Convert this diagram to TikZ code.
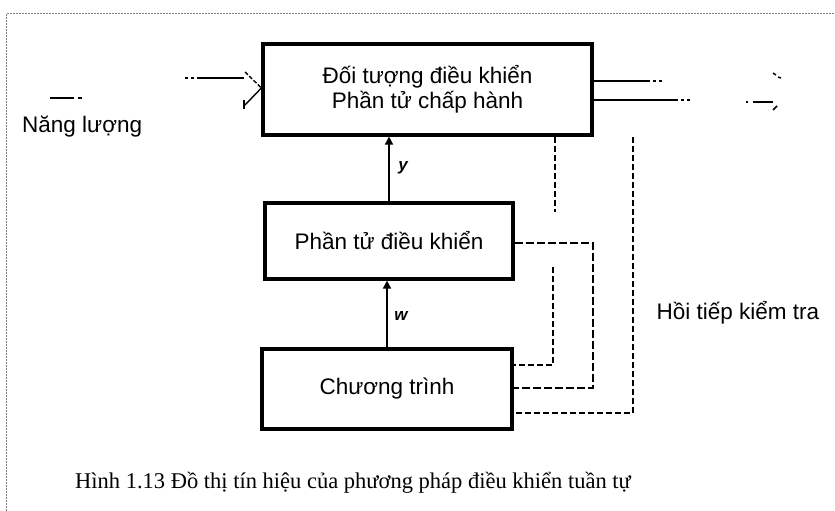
\documentclass[tikz,border=0pt]{standalone}
\usepackage{fontspec}
\setmainfont{Liberation Serif}
\setsansfont{Liberation Sans}
\usetikzlibrary{arrows.meta}
\begin{document}
\begin{tikzpicture}[x=1pt,y=-1pt,
  blk/.style={draw,line width=3.2pt,minimum width=#1,inner sep=0pt,font=\sffamily\fontsize{22.5}{25}\selectfont,align=center},
  sig/.style={line width=1.6pt,-{Triangle[length=8pt,width=8pt]}},
  fbthin/.style={line width=1.4pt,dash pattern=on 6pt off 3pt},
  fbthick/.style={line width=2.4pt,dash pattern=on 8pt off 3pt},
  lbl/.style={font=\sffamily\fontsize{22.5}{25}\selectfont,inner sep=0pt},
  sym/.style={font=\sffamily\bfseries\itshape\fontsize{17}{20}\selectfont,inner sep=0pt}]
\useasboundingbox (0,0) rectangle (835,511);
% frame
\draw[gray,line width=1pt,dash pattern=on 2pt off 1pt] (6,511) -- (6,14) -- (835,14);
% boxes
\node[blk=329pt,minimum height=91pt] (top) at (427.5,89.5) {Đối tượng điều khiển\\Phần tử chấp hành};
\node[blk=248pt,minimum height=76pt] (mid) at (389,241) {Phần tử điều khiển};
\node[blk=250pt,minimum height=80pt] (bot) at (387,389) {Chương trình};
% signals
\draw[sig] (mid.north) -- (mid.north |- top.south);
\draw[sig] (bot.north) -- (bot.north |- mid.south);
\node[sym] (ylab) at (403,168) {y};
\node[sym] (wlab) at (401,316) {w};
% feedback lines
\coordinate (a1) at (555,212);
\coordinate (a2) at (553,267);
\coordinate (a3) at (553,365);
\coordinate (b1) at (593,243);
\coordinate (b2) at (593,388);
\coordinate (c0) at (633,137);
\coordinate (c1) at (633,413);
\draw[fbthin] (top.south -| a1) -- (a1);
\draw[fbthin] (a2) -- (a3) -- (bot.east |- a3);
\draw[fbthick] (mid.east |- b1) -- (b1) -- (b2) -- (bot.east |- b2);
\draw[fbthin] (c0) -- (c1) -- (bot.east |- c1);
% input energy arrow
\coordinate (i0) at (185,78);
\coordinate (i1) at (200,78);
\coordinate (i2) at (244,78);
\coordinate (ia) at (245,72);
\coordinate (ib) at (244,106);
\draw[line width=1.5pt,dash pattern=on 3pt off 3pt] (i0) -- (i1);
\draw[line width=1.5pt] (i1) -- (i2);
\draw[line width=1.4pt,dash pattern=on 4pt off 2pt] (ia) -- (top.west |- 0,88);
\draw[line width=1.4pt] (top.west |- 0,88) -- (ib);
\draw[line width=1.4pt] (244,100) -- (244,109);
\coordinate (e0) at (50,98);
\coordinate (e1) at (74,98);
\draw[line width=1.5pt] (e0) -- (e1);
\draw[line width=1.5pt] (78,98) -- (82,98);
\node[lbl,anchor=west] (nl) at (22,127) {Năng lượng};
% outputs
\coordinate (o1) at (647,81);
\coordinate (o2) at (675,100);
\draw[line width=1.5pt] (top.east |- o1) -- (o1);
\draw[line width=1.5pt,dash pattern=on 3pt off 3pt] (o1) -- (665,81);
\draw[line width=1.7pt] (top.east |- o2) -- (o2);
\draw[line width=1.7pt,dash pattern=on 3pt off 3pt] (o2) -- (692,100);
\draw[line width=1.5pt] (773,73) -- (776,75);
\draw[line width=1.5pt] (778,77) -- (781,78);
\draw[line width=1.5pt] (746,102) -- (748,102);
\draw[line width=1.5pt] (753,102) -- (773,102);
\draw[line width=1.5pt] (773,110) -- (777,106);
% labels
\node[lbl] (hoi) at (738,313) {Hồi tiếp kiểm tra};
\node[font=\fontsize{22.5}{24}\selectfont,anchor=west,inner sep=0pt] (cap) at (75,483) {Hình 1.13 Đồ thị tín hiệu của phương pháp điều khiển tuần tự};
\end{tikzpicture}
\end{document}
